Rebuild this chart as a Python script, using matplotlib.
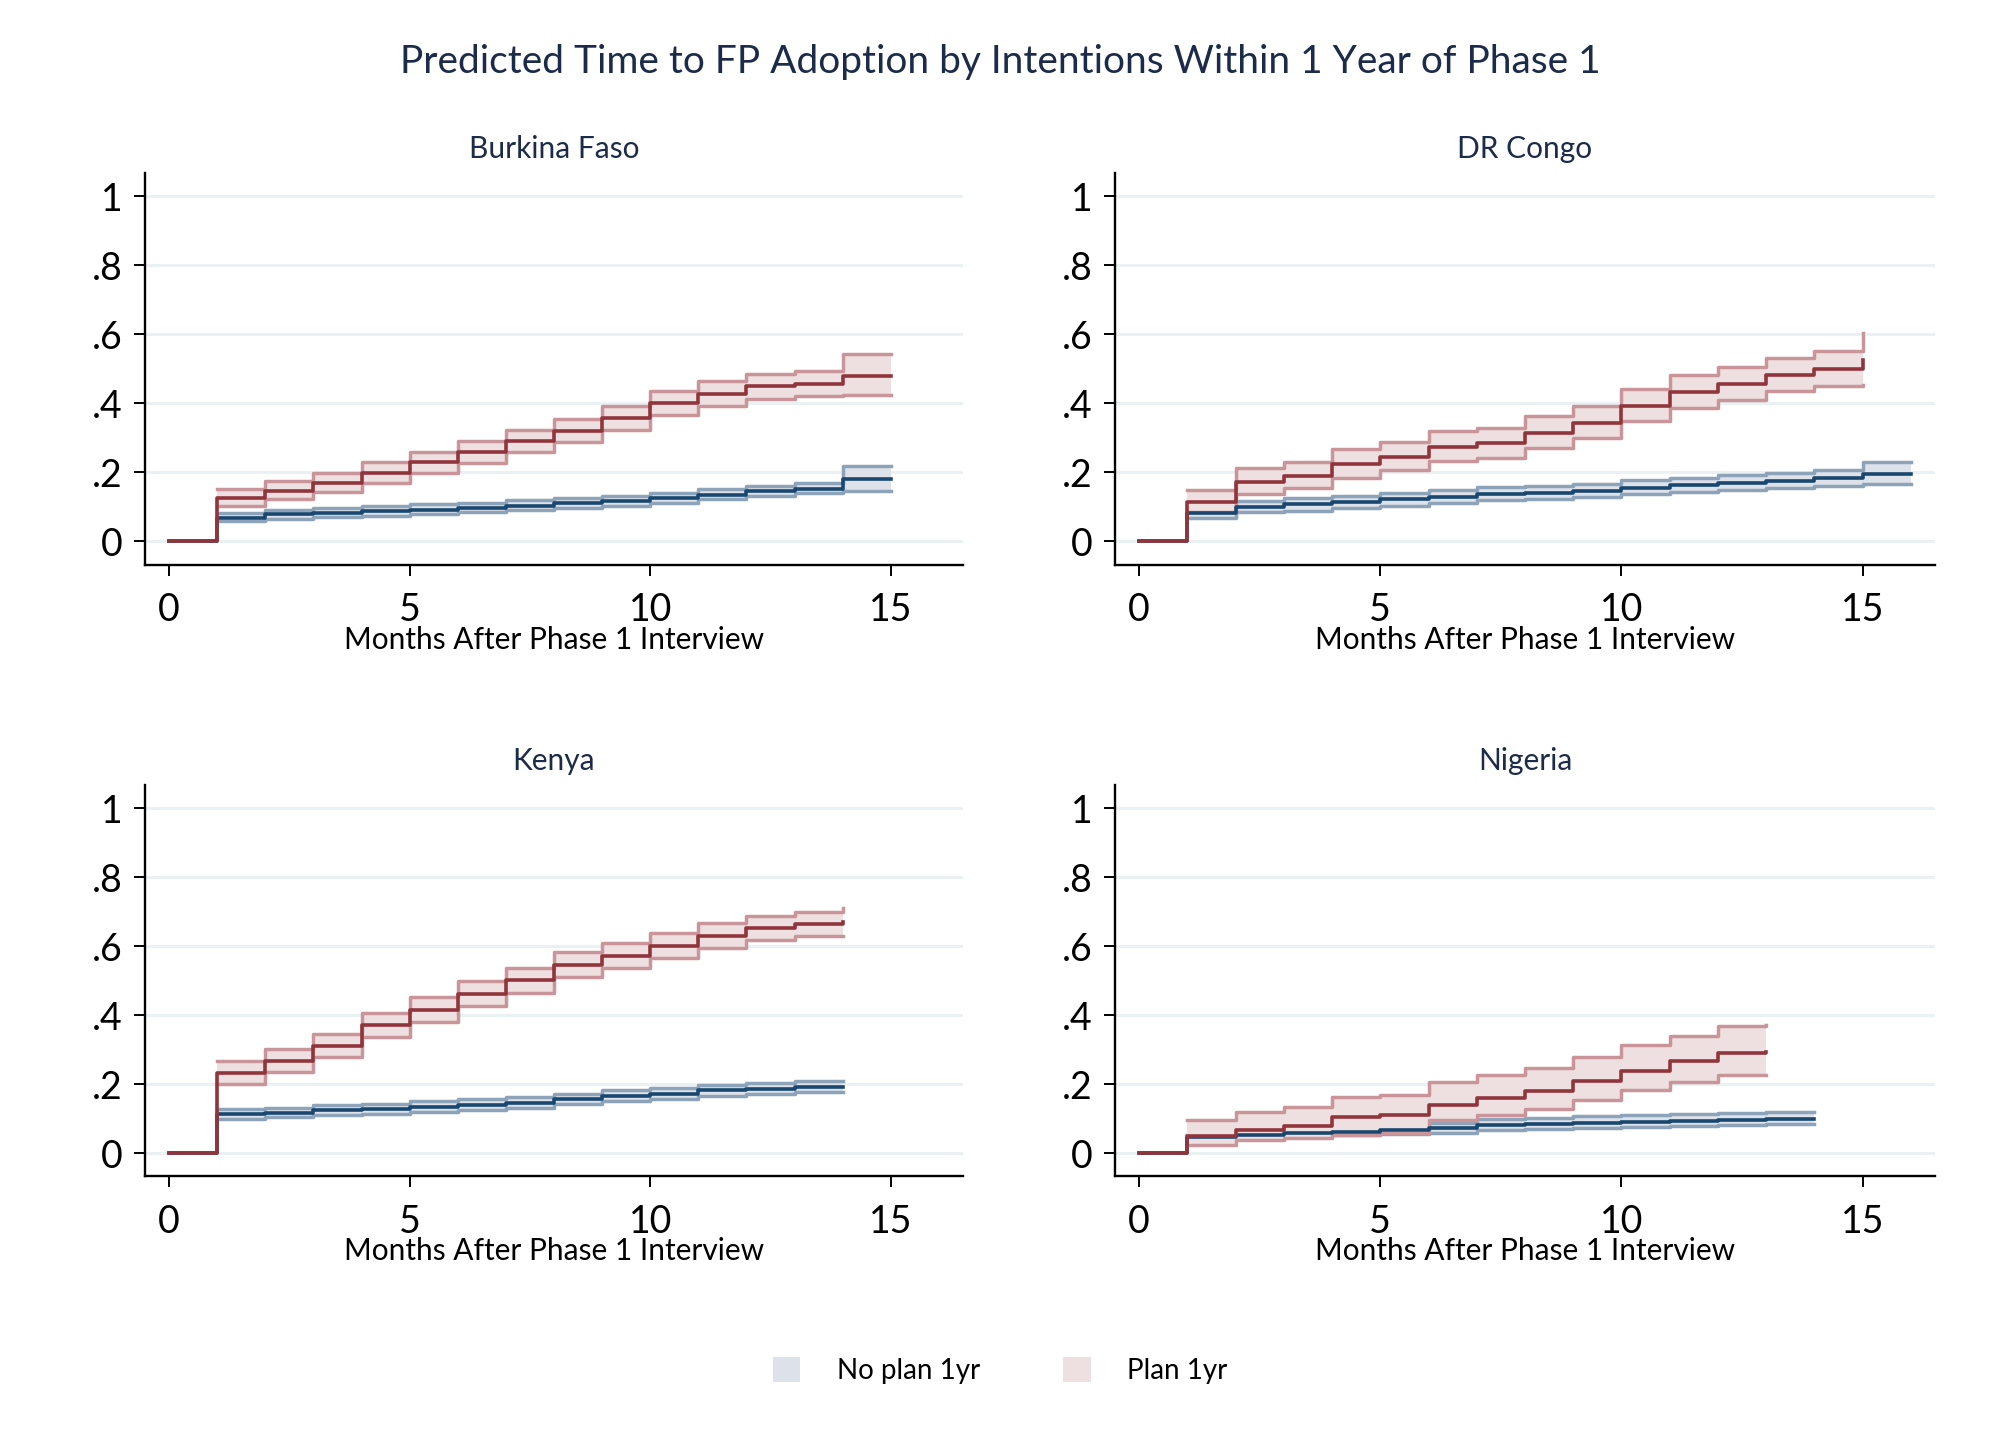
import matplotlib
matplotlib.use("Agg")
import matplotlib.pyplot as plt
from matplotlib.patches import Patch
import numpy as np

plt.rcParams.update({'font.family': ['Lato', 'DejaVu Sans']})

# survival-type step data, value at start of each month (post-step)
countries = ["Burkina Faso", "DR Congo", "Kenya", "Nigeria"]

# Plan 1yr (maroon)
bf_plan_est = [0, .126, .146, .170, .199, .229, .260, .290, .321, .358, .401, .428, .449, .457, .480, .480]
bf_plan_lo = [.102, .122, .143, .170, .197, .227, .258, .289, .324, .365, .392, .413, .420, .423, .423]
bf_plan_hi = [.151, .175, .199, .231, .260, .292, .324, .355, .392, .435, .464, .485, .493, .542, .542]

cd_plan_est = [0, .115, .172, .190, .224, .245, .275, .284, .314, .343, .392, .433, .457, .482, .499, .525]
cd_plan_lo = [.086, .138, .156, .185, .206, .233, .243, .272, .300, .348, .386, .411, .436, .449, .452]
cd_plan_hi = [.149, .212, .229, .268, .289, .321, .330, .362, .392, .441, .481, .504, .532, .552, .603]

ke_plan_est = [0, .233, .268, .311, .371, .416, .462, .501, .546, .572, .600, .630, .653, .663, .671]
ke_plan_lo = [.202, .236, .278, .337, .381, .426, .463, .512, .537, .565, .595, .618, .628, .630]
ke_plan_hi = [.266, .302, .346, .407, .453, .499, .536, .583, .608, .637, .667, .686, .698, .710]

ng_plan_est = [0, .049, .068, .079, .105, .110, .141, .160, .180, .210, .239, .266, .290, .292]
ng_plan_lo = [.024, .037, .045, .054, .060, .097, .112, .127, .154, .183, .205, .227, .227]
ng_plan_hi = [.097, .120, .134, .163, .170, .207, .227, .246, .280, .314, .340, .368, .372]

# No plan 1yr (navy)
bf_noplan_est = [0, .068, .078, .083, .088, .092, .097, .104, .110, .117, .126, .134, .146, .153, .180, .180]
bf_noplan_lo = [.058, .065, .070, .075, .080, .085, .090, .096, .102, .112, .122, .131, .139, .146, .146]
bf_noplan_hi = [.083, .090, .097, .102, .107, .112, .119, .125, .131, .141, .151, .162, .168, .219, .219]

cd_noplan_est = [0, .081, .100, .107, .114, .122, .128, .136, .141, .146, .156, .163, .168, .175, .183, .195, .195]
cd_noplan_lo = [.068, .085, .089, .097, .104, .112, .119, .124, .128, .136, .144, .149, .156, .162, .165, .165]
cd_noplan_hi = [.094, .117, .125, .131, .141, .148, .158, .162, .167, .178, .185, .192, .197, .207, .231, .231]

ke_noplan_est = [0, .113, .118, .125, .127, .134, .139, .147, .157, .165, .173, .183, .186, .193, .193]
ke_noplan_lo = [.100, .105, .112, .115, .120, .125, .132, .142, .151, .157, .166, .171, .178, .178]
ke_noplan_hi = [.127, .132, .139, .142, .151, .157, .163, .173, .183, .190, .199, .204, .209, .209]

ng_noplan_est = [0, .046, .054, .059, .062, .066, .073, .081, .084, .088, .090, .093, .097, .100, .100]
ng_noplan_lo = [.038, .045, .050, .052, .056, .059, .066, .071, .074, .076, .079, .083, .084, .084]
ng_noplan_hi = [.054, .061, .068, .071, .076, .088, .098, .103, .107, .110, .113, .117, .120, .120]

plan = {
    "Burkina Faso": (bf_plan_est, bf_plan_lo, bf_plan_hi),
    "DR Congo": (cd_plan_est, cd_plan_lo, cd_plan_hi),
    "Kenya": (ke_plan_est, ke_plan_lo, ke_plan_hi),
    "Nigeria": (ng_plan_est, ng_plan_lo, ng_plan_hi),
}
noplan = {
    "Burkina Faso": (bf_noplan_est, bf_noplan_lo, bf_noplan_hi),
    "DR Congo": (cd_noplan_est, cd_noplan_lo, cd_noplan_hi),
    "Kenya": (ke_noplan_est, ke_noplan_lo, ke_noplan_hi),
    "Nigeria": (ng_noplan_est, ng_noplan_lo, ng_noplan_hi),
}

navy = '#1a476f'
maroon = '#90353b'
navy_ci = '#8da3ba'
maroon_ci = '#c9959b'
navy_fill = '#dde2ea'
maroon_fill = '#eee0e1'
title_col = '#1c2b4a'

fig = plt.figure(figsize=[20, 14.55], dpi=100)
fig.patch.set_facecolor('white')

# axes rectangles [left, bottom, width, height] in figure fraction
boxes = [[0.0725, 0.612, 0.409, 0.269], [0.5575, 0.612, 0.41, 0.269],
         [0.0725, 0.1915, 0.409, 0.269], [0.5575, 0.1915, 0.41, 0.269]]


def draw_group(ax, est, lo, hi, line_c, ci_c, fill_c, z):
    x = np.arange(len(est))
    xc = np.arange(1, len(lo) + 1)
    ax.fill_between(xc, lo, hi, step='post', facecolor=fill_c, edgecolor='none', zorder=z)
    ax.plot(xc, lo, drawstyle='steps-post', color=ci_c, lw=2.5, zorder=z + 1)
    ax.plot(xc, hi, drawstyle='steps-post', color=ci_c, lw=2.5, zorder=z + 1)
    return x


for name, box in zip(countries, boxes):
    ax = fig.add_axes(box)
    ne, nl, nh = noplan[name]
    pe, pl, ph = plan[name]
    xn = draw_group(ax, ne, nl, nh, navy, navy_ci, navy_fill, 2)
    xp = draw_group(ax, pe, pl, ph, maroon, maroon_ci, maroon_fill, 4)
    ax.plot(xn, ne, drawstyle='steps-post', color=navy, lw=2.6, zorder=7)
    ax.plot(xp, pe, drawstyle='steps-post', color=maroon, lw=2.6, zorder=8)

    ax.set_xlim(-0.5, 16.5)
    ax.set_ylim(-0.067, 1.067)
    ax.set_xticks([0, 5, 10, 15])
    ax.set_yticks([0, .2, .4, .6, .8, 1])
    ax.set_yticklabels(['0', '.2', '.4', '.6', '.8', '1'])
    ax.yaxis.grid(True, color='#e9f1f3', lw=2.2, zorder=0)
    ax.set_axisbelow(True)
    for s in ['top', 'right']:
        ax.spines[s].set_visible(False)
    for s in ['left', 'bottom']:
        ax.spines[s].set_linewidth(1.7)
    ax.tick_params(axis='both', direction='out', length=8, width=1.4, labelsize=27)
    ax.tick_params(axis='y', pad=8)
    ax.tick_params(axis='x', pad=12)
    ax.set_xlabel('Months After Phase 1 Interview', fontsize=21.5, labelpad=-2)
    ax.set_title(name, fontsize=21.5, color=title_col, pad=11)

fig.suptitle('Predicted Time to FP Adoption by Intentions Within 1 Year of Phase 1',
             fontsize=28, color=title_col, y=0.97)

handles = [Patch(facecolor=navy_fill, edgecolor='none', label='No plan 1yr'),
           Patch(facecolor=maroon_fill, edgecolor='none', label='Plan 1yr')]
fig.legend(handles=handles, loc='center', bbox_to_anchor=(0.5, 0.058), ncol=2,
           frameon=False, fontsize=20, handlelength=1.0, handleheight=1.0,
           handletextpad=1.3, columnspacing=3.0)

plt.savefig('out.png', dpi=100)
